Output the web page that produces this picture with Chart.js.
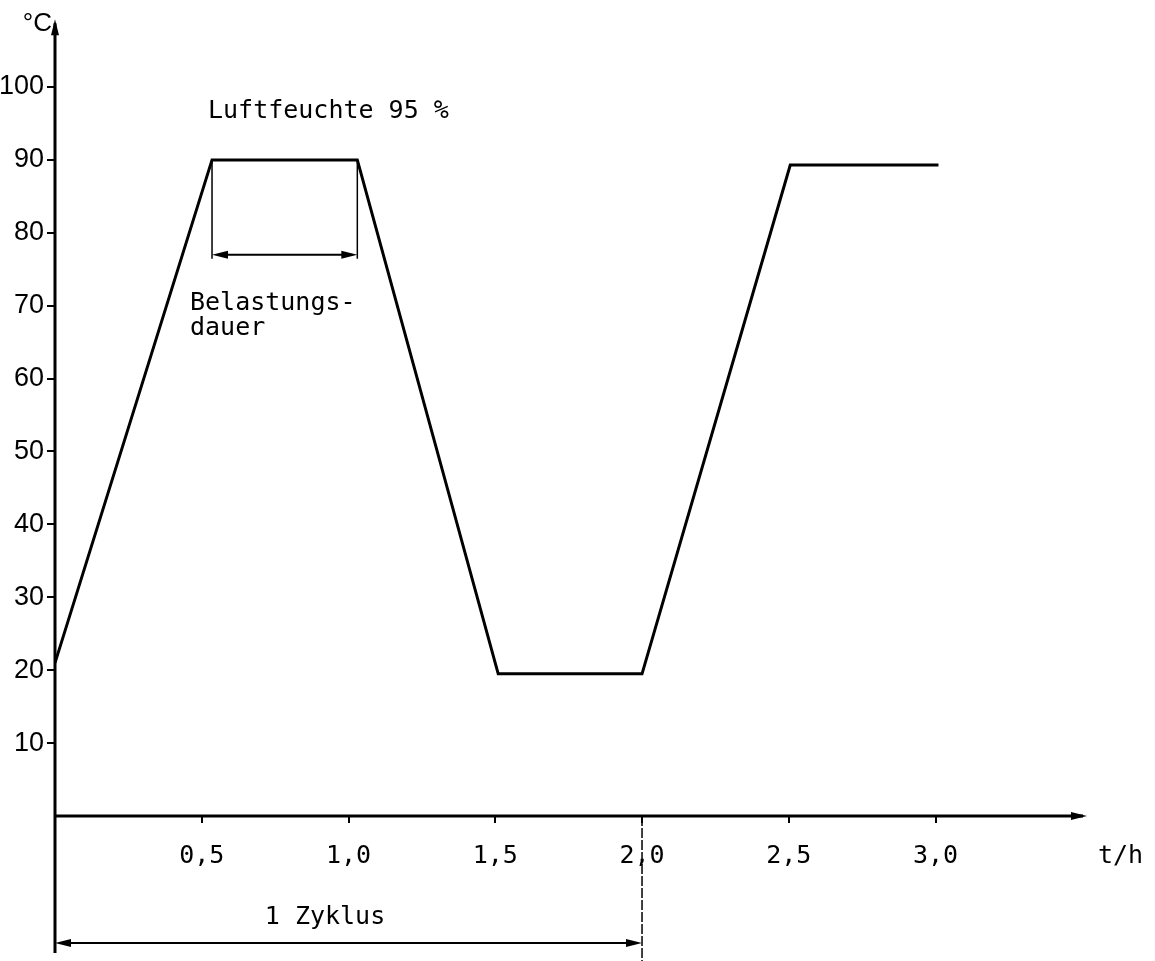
<!DOCTYPE html>
<html>
<head>
<meta charset="utf-8">
<script src="https://cdn.jsdelivr.net/npm/chart.js@4/dist/chart.umd.min.js"></script>
<style>
  html, body { margin: 0; padding: 0; background: #fff; }
  #wrap { width: 1155px; height: 961px; }
</style>
</head>
<body>
<div id="wrap"><canvas id="klima_chart"></canvas></div>
<script>
// Temperaturverlauf (t in h, Temperatur in °C)
var zeit = [0, 0.535, 1.03, 1.51, 2.0, 2.505, 3.01];
var temperatur = [21, 90, 90, 19.5, 19.5, 89.3, 89.3];

// Achsbeschriftungen
var xTickWerte = [0.5, 1.0, 1.5, 2.0, 2.5, 3.0];
var xTickLabels = ['0,5', '1,0', '1,5', '2,0', '2,5', '3,0'];
var yTickWerte = [10, 20, 30, 40, 50, 60, 70, 80, 90, 100];

// Belastungsdauer (Plateau) und Zyklusdauer
var belastung = [0.535, 1.03];
var zyklus = [0, 2.0];

var monoFont = "'DejaVu Sans Mono', monospace";
var sansFont = "'Liberation Sans', Arial, sans-serif";

function pfeil(ctx, x, y, dir) {
    // kleine gefuellte Pfeilspitze, dir: 'up', 'right', 'left'
    ctx.beginPath();
    if (dir === 'up') {
        ctx.moveTo(x, y); ctx.lineTo(x - 4, y + 16); ctx.lineTo(x + 4, y + 16);
    } else if (dir === 'right') {
        ctx.moveTo(x, y); ctx.lineTo(x - 16, y - 4); ctx.lineTo(x - 16, y + 4);
    } else {
        ctx.moveTo(x, y); ctx.lineTo(x + 16, y - 4); ctx.lineTo(x + 16, y + 4);
    }
    ctx.closePath();
    ctx.fill();
}

var beschriftung = {
    id: 'beschriftung',
    afterDraw: function(chart) {
        var ctx = chart.ctx;
        var xs = chart.scales.x, ys = chart.scales.y;
        var x0 = xs.getPixelForValue(0), y0 = ys.getPixelForValue(0);
        var top = chart.chartArea.top, right = chart.chartArea.right;
        ctx.save();
        ctx.strokeStyle = '#000';
        ctx.fillStyle = '#000';

        // Achsen
        ctx.lineWidth = 3;
        ctx.beginPath();
        ctx.moveTo(x0, top + 4); ctx.lineTo(x0, 953);
        ctx.moveTo(x0, y0); ctx.lineTo(right - 4, y0);
        ctx.stroke();
        pfeil(ctx, x0, top, 'up');
        pfeil(ctx, right, y0, 'right');

        // Einheiten
        ctx.font = '26px ' + sansFont;
        ctx.textAlign = 'right';
        ctx.textBaseline = 'middle';
        ctx.fillText('°C', 52, 24);
        ctx.font = '25px ' + monoFont;
        ctx.textAlign = 'left';
        ctx.fillText('t/h', 1098, 856);

        // Luftfeuchte
        ctx.textBaseline = 'alphabetic';
        ctx.fillText('Luftfeuchte 95 %', 208, 118);

        // Belastungsdauer
        var bx1 = xs.getPixelForValue(belastung[0]);
        var bx2 = xs.getPixelForValue(belastung[1]);
        var by1 = ys.getPixelForValue(90);
        var by2 = ys.getPixelForValue(77);
        ctx.lineWidth = 1.5;
        ctx.beginPath();
        ctx.moveTo(bx1, by1); ctx.lineTo(bx1, by2 + 4);
        ctx.moveTo(bx2, by1); ctx.lineTo(bx2, by2 + 4);
        ctx.stroke();
        ctx.lineWidth = 2;
        ctx.beginPath();
        ctx.moveTo(bx1 + 6, by2); ctx.lineTo(bx2 - 6, by2);
        ctx.stroke();
        pfeil(ctx, bx1, by2, 'left');
        pfeil(ctx, bx2, by2, 'right');
        ctx.fillText('Belastungs-', 190, 310);
        ctx.fillText('dauer', 190, 335);

        // 1 Zyklus
        var zx1 = xs.getPixelForValue(zyklus[0]);
        var zx2 = xs.getPixelForValue(zyklus[1]);
        ctx.lineWidth = 1.5;
        ctx.setLineDash([10, 2]);
        ctx.beginPath();
        ctx.moveTo(zx2, y0); ctx.lineTo(zx2, 961);
        ctx.stroke();
        ctx.setLineDash([]);
        ctx.lineWidth = 2;
        ctx.beginPath();
        ctx.moveTo(zx1 + 6, 943); ctx.lineTo(zx2 - 6, 943);
        ctx.stroke();
        pfeil(ctx, zx1, 943, 'left');
        pfeil(ctx, zx2, 943, 'right');
        ctx.textAlign = 'center';
        ctx.fillText('1 Zyklus', 325, 924);
        ctx.restore();
    }
};

var chart = new Chart(document.getElementById('klima_chart'), {
    type: 'line',
    data: {
        datasets: [{
            data: zeit.map(function(t, i) { return { x: t, y: temperatur[i] }; }),
            borderColor: '#000',
            borderWidth: 3,
            pointRadius: 0,
            tension: 0,
            fill: false
        }]
    },
    options: {
        responsive: true,
        maintainAspectRatio: false,
        animation: false,
        layout: { padding: { top: 15, right: 68, left: 0, bottom: 0 } },
        plugins: { legend: { display: false }, tooltip: { enabled: false } },
        scales: {
            x: {
                type: 'linear',
                min: 0,
                max: 3.516,
                afterFit: function(scale) { scale.height = 145; },
                afterBuildTicks: function(scale) {
                    scale.ticks = xTickWerte.map(function(v) { return { value: v }; });
                },
                border: { display: false },
                grid: { drawOnChartArea: false, drawTicks: true, tickLength: 7, color: '#000', lineWidth: 2 },
                ticks: {
                    color: '#000',
                    padding: 18,
                    maxRotation: 0,
                    font: { family: monoFont, size: 25 },
                    callback: function(v) { return xTickLabels[xTickWerte.indexOf(v)]; }
                }
            },
            y: {
                min: 0,
                max: 109.3,
                afterFit: function(scale) { scale.width = 55; },
                afterBuildTicks: function(scale) {
                    scale.ticks = yTickWerte.map(function(v) { return { value: v }; });
                },
                border: { display: false },
                grid: { drawOnChartArea: false, drawTicks: true, tickLength: 8, color: '#000', lineWidth: 2 },
                ticks: {
                    color: '#000',
                    padding: 3,
                    font: { family: sansFont, size: 27 }
                }
            }
        }
    },
    plugins: [beschriftung]
});
</script>
</body>
</html>
